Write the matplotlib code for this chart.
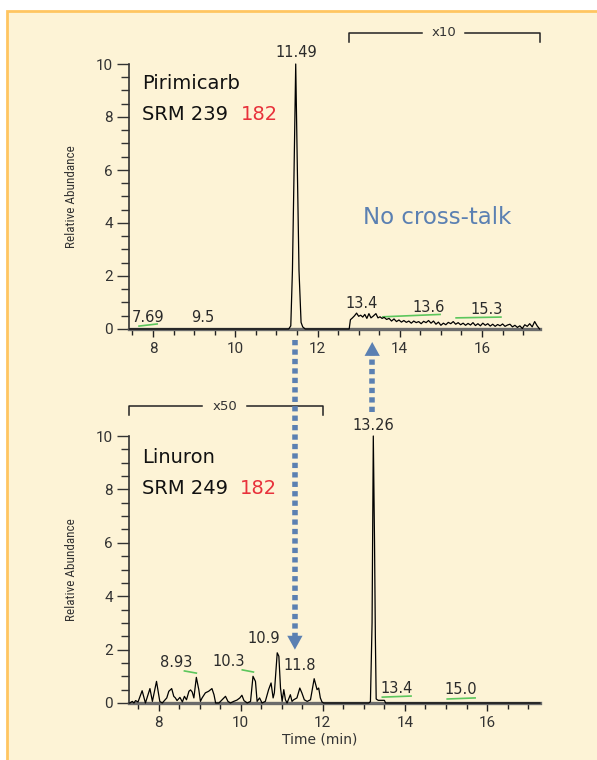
import matplotlib
matplotlib.use("Agg")
import matplotlib.pyplot as plt
from matplotlib.patches import Rectangle
from matplotlib.ticker import MultipleLocator

# ---------------- data ----------------
# Top trace: Pirimicarb SRM 239 -> 182 (x10 region after 12.77 min)
top_time = [7.42, 11.30, 11.35, 11.39, 11.43, 11.47, 11.51, 11.55, 11.60, 11.64, 11.70, 12.77,
            12.80, 12.85, 12.90, 12.95, 13.00, 13.05, 13.10, 13.15, 13.20, 13.25, 13.30, 13.35,
            13.42, 13.47, 13.52, 13.57, 13.62, 13.68, 13.74, 13.80, 13.86, 13.92, 13.98, 14.04,
            14.10, 14.16, 14.22, 14.28, 14.34, 14.40, 14.46, 14.52, 14.58, 14.64, 14.70, 14.76,
            14.82, 14.88, 14.94, 15.00, 15.06, 15.12, 15.18, 15.24, 15.30, 15.36, 15.42, 15.48,
            15.54, 15.60, 15.66, 15.72, 15.78, 15.84, 15.90, 15.96, 16.02, 16.08, 16.14, 16.20,
            16.26, 16.32, 16.38, 16.44, 16.50, 16.56, 16.62, 16.68, 16.74, 16.80, 16.86, 16.92,
            16.98, 17.04, 17.10, 17.16, 17.22, 17.28, 17.34, 17.40]
top_abund = [0.0, 0.0, 0.12, 2.2, 6.0, 10.0, 6.0, 2.2, 0.25, 0.08, 0.0, 0.0,
             0.35, 0.42, 0.50, 0.60, 0.48, 0.52, 0.45, 0.55, 0.40, 0.58, 0.42, 0.48,
             0.58, 0.42, 0.46, 0.40, 0.44, 0.36, 0.40, 0.30, 0.38, 0.28, 0.34, 0.26,
             0.32, 0.25, 0.30, 0.22, 0.30, 0.24, 0.28, 0.20, 0.29, 0.24, 0.32, 0.22,
             0.30, 0.18, 0.26, 0.14, 0.22, 0.16, 0.25, 0.20, 0.28, 0.18, 0.24, 0.16,
             0.22, 0.14, 0.21, 0.15, 0.24, 0.13, 0.20, 0.12, 0.22, 0.14, 0.20, 0.11,
             0.18, 0.10, 0.17, 0.12, 0.19, 0.10, 0.15, 0.18, 0.08, 0.14, 0.06, 0.12,
             0.02, 0.16, 0.10, 0.20, 0.08, 0.28, 0.12, 0.0]

# Bottom trace: Linuron SRM 249 -> 182 (x50 region before 12.0 min)
bot_time = [7.28, 7.30, 7.36, 7.40, 7.44, 7.50, 7.60, 7.68, 7.79, 7.85, 7.95, 8.03, 8.09,
            8.20, 8.25, 8.32, 8.37, 8.41, 8.45, 8.52, 8.58, 8.63, 8.68, 8.74, 8.78, 8.82,
            8.86, 8.92, 8.98, 9.02, 9.06, 9.14, 9.22, 9.30, 9.35, 9.39, 9.47, 9.63, 9.69,
            9.75, 9.83, 9.91, 9.98, 10.03, 10.08, 10.16, 10.24, 10.30, 10.36, 10.40, 10.46,
            10.52, 10.60, 10.68, 10.74, 10.79, 10.82, 10.89, 10.93, 10.97, 11.01, 11.05,
            11.09, 11.13, 11.21, 11.25, 11.29, 11.37, 11.44, 11.49, 11.55, 11.62, 11.70,
            11.79, 11.86, 11.90, 11.94, 11.98, 12.02, 13.12, 13.16, 13.20, 13.23, 13.26,
            13.28, 13.30, 13.35, 13.50, 13.53, 17.29]
bot_abund = [0.0, 0.0, 0.06, 0.0, 0.09, 0.04, 0.46, 0.0, 0.54, 0.06, 0.81, 0.06, 0.0,
             0.19, 0.44, 0.54, 0.25, 0.19, 0.09, 0.21, 0.04, 0.25, 0.12, 0.44, 0.49, 0.41,
             0.19, 0.96, 0.50, 0.06, 0.19, 0.38, 0.44, 0.54, 0.31, 0.0, 0.0, 0.25, 0.06,
             0.0, 0.06, 0.11, 0.19, 0.29, 0.09, 0.0, 0.06, 1.0, 0.81, 0.06, 0.19,
             0.0, 0.06, 0.50, 0.75, 0.19, 0.38, 1.88, 1.75, 0.56, 0.06, 0.50,
             0.12, 0.0, 0.31, 0.06, 0.12, 0.19, 0.56, 0.38, 0.12, 0.06, 0.12,
             0.91, 0.50, 0.56, 0.19, 0.04, 0.0, 0.0, 0.05, 3.0, 10.0, 6.0,
             2.5, 0.15, 0.10, 0.10, 0.0, 0.0]

top_labels = ["11.49", "7.69", "9.5", "13.4", "13.6", "15.3"]
top_label_xy = [(11.48, 10.45), (7.88, 0.42), (9.22, 0.45), (13.08, 0.98), (14.69, 0.83), (16.12, 0.72)]
bot_labels = ["13.26", "8.93", "10.3", "10.9", "11.8", "13.4", "15.0"]
bot_label_xy = [(13.23, 10.41), (8.44, 1.50), (9.70, 1.54), (10.55, 2.43), (11.43, 1.39), (13.81, 0.56), (15.37, 0.49)]

# integration baselines (start time, end time, start level, end level)
top_baselines = [(7.66, 8.10, 0.11, 0.19), (13.59, 14.98, 0.46, 0.55), (15.37, 16.46, 0.42, 0.45)]
bot_baselines = [(8.63, 8.92, 1.20, 1.12), (10.04, 10.31, 1.24, 1.16), (13.45, 14.15, 0.22, 0.26), (15.03, 15.71, 0.15, 0.19)]

x_ticks_major = [8, 10, 12, 14, 16]
y_ticks_major = [0, 2, 4, 6, 8, 10]

# ---------------- style ----------------
BG = "#fdf3d6"
BORDER = "#ffc561"
BLUE = "#5b80b2"
RED = "#e8313b"
GREEN = "#5cc65c"
TXT = "#2a2a2a"
narrow = ["Liberation Sans Narrow", "Roboto Condensed", "Roboto", "DejaVu Sans"]
tickfont = ["Roboto", "DejaVu Sans"]

fig = plt.figure(figsize=(5.97, 7.60), dpi=100, facecolor="white")
bg = Rectangle((7 / 597, -0.05), 1.0, 1 - 11 / 760 + 0.05,
               transform=fig.transFigure, facecolor=BG,
               edgecolor=BORDER, linewidth=2, zorder=-10)
fig.add_artist(bg)

ax1 = fig.add_axes([129 / 597, 1 - 329 / 760, 411 / 597, 265 / 760])
ax2 = fig.add_axes([129 / 597, 1 - 703 / 760, 411 / 597, 267 / 760])
ax1.set_xlim(7.416, 17.41)
ax2.set_xlim(7.28, 17.29)

for ax in (ax1, ax2):
    ax.set_facecolor("none")
    ax.set_zorder(1)
    ax.set_ylim(0, 10)
    for s in ("top", "right"):
        ax.spines[s].set_visible(False)
    ax.spines["left"].set_color("#333333")
    ax.spines["left"].set_linewidth(1.2)
    ax.spines["bottom"].set_color("#6b6b6b")
    ax.spines["bottom"].set_linewidth(2.4)
    ax.set_xticks(x_ticks_major)
    ax.set_yticks(y_ticks_major)
    ax.xaxis.set_minor_locator(MultipleLocator(0.5))
    ax.yaxis.set_minor_locator(MultipleLocator(0.5))
    ax.tick_params(axis="x", which="major", direction="out", length=5.5, width=1.0,
                   color="#222222", pad=4, labelsize=11, labelcolor="#333333")
    ax.tick_params(axis="x", which="minor", direction="out", length=4.5, width=1.0, color="#222222")
    ax.tick_params(axis="y", which="major", direction="out", length=8.5, width=1.0,
                   color="#333333", pad=3, labelsize=11, labelcolor="#333333")
    ax.tick_params(axis="y", which="minor", direction="out", length=6, width=1.0, color="#333333")
    for lab in ax.get_xticklabels() + ax.get_yticklabels():
        lab.set_family(tickfont)
    ax.set_ylabel("Relative Abundance", fontsize=9.5, color="#333333", family=narrow)
    ax.yaxis.set_label_coords(-0.124, 0.5)

ax1.set_zorder(2)

ax1.plot(top_time, top_abund, color="black", lw=0.9, clip_on=False, zorder=3)
ax2.plot(bot_time, bot_abund, color="black", lw=0.9, clip_on=False, zorder=3)

for ax, labs, xy in ((ax1, top_labels, top_label_xy), (ax2, bot_labels, bot_label_xy)):
    for t, (x, y) in zip(labs, xy):
        ax.text(x, y, t, ha="center", va="center", fontsize=10.5, color=TXT, clip_on=False)

for ax, bls in ((ax1, top_baselines), (ax2, bot_baselines)):
    for (x0, x1, y0, y1) in bls:
        ax.plot([x0, x1], [y0, y1], color=GREEN, lw=1.2, zorder=2, clip_on=False)

# compound titles
ax1.text(0.032, 0.928, "Pirimicarb", transform=ax1.transAxes, fontsize=14, color="#111111", va="center")
ax1.text(0.032, 0.808, "SRM 239", transform=ax1.transAxes, fontsize=14, color="#111111", va="center")
ax1.text(0.2725, 0.808, "182", transform=ax1.transAxes, fontsize=14, color=RED, va="center")
ax2.text(0.032, 0.921, "Linuron", transform=ax2.transAxes, fontsize=14, color="#111111", va="center")
ax2.text(0.032, 0.805, "SRM 249", transform=ax2.transAxes, fontsize=14, color="#111111", va="center")
ax2.text(0.27, 0.805, "182", transform=ax2.transAxes, fontsize=14, color=RED, va="center")

ax1.text(0.569, 0.419, "No cross-talk", transform=ax1.transAxes, fontsize=16.5, color=BLUE, va="center")

ax2.set_xlabel("Time (min)", fontsize=10, color="#333333")
ax2.xaxis.set_label_coords(0.465, -0.11)

# scale brackets
def bracket(ax, x0, x1, gap0, gap1, y, yend, label):
    kw = dict(color="#222222", lw=1.1, clip_on=False)
    ax.plot([x0, x0, gap0], [yend, y, y], **kw)
    ax.plot([gap1, x1, x1], [y, y, yend], **kw)
    ax.text((gap0 + gap1) / 2, y, label, ha="center", va="center", fontsize=9.5,
            color="#333333", clip_on=False)

bracket(ax1, 12.77, 17.41, 14.54, 15.59, 11.17, 10.83, "x10")
bracket(ax2, 7.28, 12.01, 9.07, 10.16, 11.12, 10.79, "x50")

# dotted arrows (in top-axes data coordinates)
def dotted_arrow(ax, x, y_tail, y_base, y_tip):
    ax.plot([x, x], [y_tail, y_base], color=BLUE, lw=4.0, dashes=(0.95, 0.75),
            dash_capstyle="butt", clip_on=False, zorder=5)
    ax.annotate("", xy=(x, y_tip), xytext=(x, y_base), annotation_clip=False,
                arrowprops=dict(arrowstyle="-|>,head_length=1.0,head_width=0.55",
                                mutation_scale=10, color=BLUE, lw=0,
                                shrinkA=0, shrinkB=0), zorder=5)

dotted_arrow(ax1, 11.45, -0.4, -11.6, -12.1)
dotted_arrow(ax1, 13.33, -3.13, -0.98, -0.49)

fig.savefig("out.png", dpi=100, facecolor="white")
